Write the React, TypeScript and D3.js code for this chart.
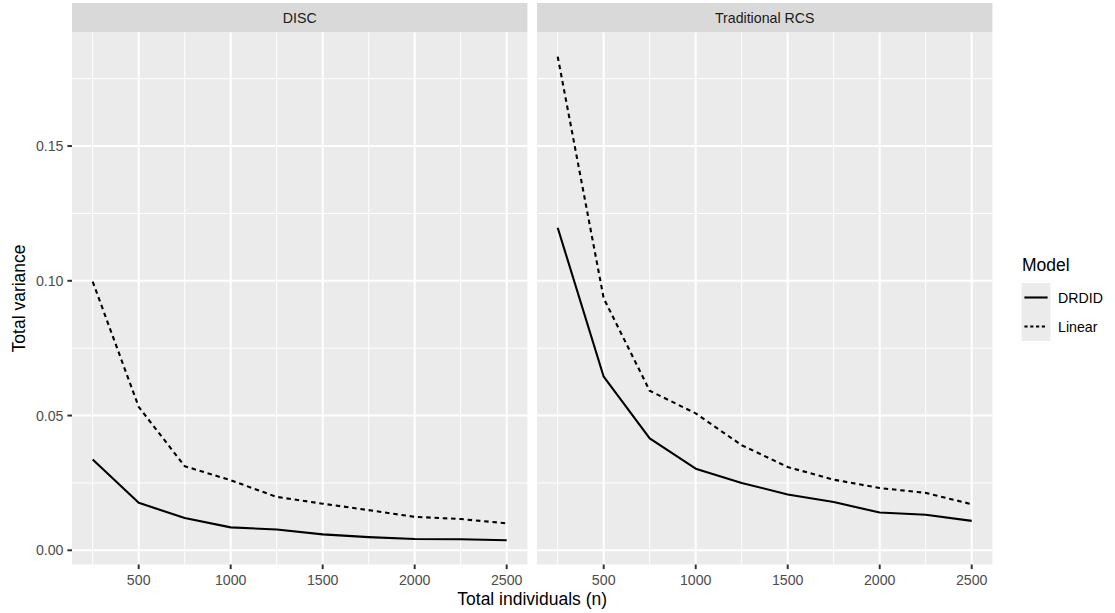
import React from "react";
import * as d3 from "d3";

const nValues = [250, 500, 750, 1000, 1250, 1500, 1750, 2000, 2250, 2500];
const discDRDID = [0.0337, 0.0176, 0.012, 0.0085, 0.0077, 0.0059, 0.0049, 0.0042, 0.0041, 0.0037];
const discLinear = [0.0997, 0.0532, 0.0312, 0.026, 0.0198, 0.0173, 0.0149, 0.0124, 0.0116, 0.01];
const rcsDRDID = [0.1197, 0.0644, 0.0415, 0.0303, 0.025, 0.0207, 0.0179, 0.014, 0.0132, 0.0109];
const rcsLinear = [0.1832, 0.0935, 0.0592, 0.0508, 0.039, 0.0309, 0.0262, 0.0231, 0.0213, 0.0171];
const facets = ["DISC", "Traditional RCS"];
const models = ["DRDID", "Linear"];
const xTicks = [500, 1000, 1500, 2000, 2500];
const xMinor = [250, 750, 1250, 1750, 2250];
const yTicks = [0, 0.05, 0.1, 0.15];
const yMinor = [0.025, 0.075, 0.125, 0.175];

const W = 1115;
const H = 613;
const FONT = "'Liberation Sans', Arial, Helvetica, sans-serif";

export default function App() {
  const panelLefts = [72, 537];
  const panelW = 455.4;
  const panelTop = 32.4;
  const panelBottom = 564.5;
  const stripTop = 3;

  const allX = nValues;
  const xr = d3.extent(allX) as [number, number];
  const xe = (xr[1] - xr[0]) * 0.05;
  const x = d3.scaleLinear().domain([xr[0] - xe, xr[1] + xe]).range([0, panelW]);

  const allY = [...discDRDID, ...discLinear, ...rcsDRDID, ...rcsLinear];
  const yr = d3.extent(allY) as [number, number];
  const ye = (yr[1] - yr[0]) * 0.05;
  const y = d3.scaleLinear().domain([yr[0] - ye, yr[1] + ye]).range([panelBottom, panelTop]);

  const series = [
    [discDRDID, discLinear],
    [rcsDRDID, rcsLinear],
  ];

  const line = d3
    .line<number>()
    .x((_, i) => x(nValues[i]))
    .y((d) => y(d));

  const dash = "4.5,3.8";

  return (
    <svg
      width={W}
      height={H}
      style={{ position: "absolute", left: 0, top: 0, background: "#fff" }}
      fontFamily={FONT}
    >
      <rect width={W} height={H} fill="#fff" />
      {facets.map((f, fi) => {
        const L = panelLefts[fi];
        return (
          <g key={f}>
            {/* strip */}
            <rect x={L} y={stripTop} width={panelW} height={panelTop - stripTop} fill="#D9D9D9" />
            <text
              x={L + panelW / 2}
              y={(stripTop + panelTop) / 2 + 5}
              textAnchor="middle"
              fontSize={14.2}
              fill="#1A1A1A"
            >
              {f}
            </text>
            {/* panel */}
            <rect x={L} y={panelTop} width={panelW} height={panelBottom - panelTop} fill="#EBEBEB" />
            {yMinor.map((v) => (
              <line key={"ym" + v} x1={L} x2={L + panelW} y1={y(v)} y2={y(v)} stroke="#fff" strokeWidth={1.0} />
            ))}
            {xMinor.map((v) => (
              <line key={"xm" + v} x1={L + x(v)} x2={L + x(v)} y1={panelTop} y2={panelBottom} stroke="#fff" strokeWidth={1.0} />
            ))}
            {yTicks.map((v) => (
              <line key={"yM" + v} x1={L} x2={L + panelW} y1={y(v)} y2={y(v)} stroke="#fff" strokeWidth={2.0} />
            ))}
            {xTicks.map((v) => (
              <line key={"xM" + v} x1={L + x(v)} x2={L + x(v)} y1={panelTop} y2={panelBottom} stroke="#fff" strokeWidth={2.0} />
            ))}
            {/* data */}
            {series[fi].map((vals, si) => (
              <path
                key={"s" + si}
                d={line(vals) || ""}
                transform={`translate(${L},0)`}
                fill="none"
                stroke="#000"
                strokeWidth={2.1}
                strokeDasharray={si === 1 ? dash : undefined}
                strokeLinejoin="round"
              />
            ))}
            {/* x axis */}
            {xTicks.map((v) => (
              <g key={"xt" + v}>
                <line x1={L + x(v)} x2={L + x(v)} y1={panelBottom} y2={panelBottom + 4.6} stroke="#333333" strokeWidth={2.0} />
                <text x={L + x(v)} y={585} textAnchor="middle" fontSize={14.2} fill="#4D4D4D">
                  {v}
                </text>
              </g>
            ))}
          </g>
        );
      })}
      {/* y axis */}
      {yTicks.map((v) => (
        <g key={"yt" + v}>
          <line x1={panelLefts[0] - 4.6} x2={panelLefts[0]} y1={y(v)} y2={y(v)} stroke="#333333" strokeWidth={2.0} />
          <text x={panelLefts[0] - 8.5} y={y(v) + 5} textAnchor="end" fontSize={14.2} fill="#4D4D4D">
            {v.toFixed(2)}
          </text>
        </g>
      ))}
      {/* axis titles */}
      <text
        x={(panelLefts[0] + panelLefts[1] + panelW) / 2}
        y={605}
        textAnchor="middle"
        fontSize={17.5}
        fill="#000"
      >
        Total individuals (n)
      </text>
      <text
        transform={`translate(24.5,${(panelTop + panelBottom) / 2}) rotate(-90)`}
        textAnchor="middle"
        fontSize={17.5}
        fill="#000"
      >
        Total variance
      </text>
      {/* legend */}
      <text x={1022} y={270.5} fontSize={17.5} fill="#000">
        Model
      </text>
      {models.map((m, i) => {
        const ky = 283 + i * 29;
        return (
          <g key={m}>
            <rect x={1021.5} y={ky} width={29} height={29} fill="#EBEBEB" />
            <line
              x1={1024.4}
              x2={1047.6}
              y1={ky + 14.5}
              y2={ky + 14.5}
              stroke="#000"
              strokeWidth={2.1}
              strokeDasharray={i === 1 ? "3.2,2.6" : undefined}
            />
            <text x={1058} y={ky + 19.5} fontSize={14.2} fill="#000">
              {m}
            </text>
          </g>
        );
      })}
    </svg>
  );
}
